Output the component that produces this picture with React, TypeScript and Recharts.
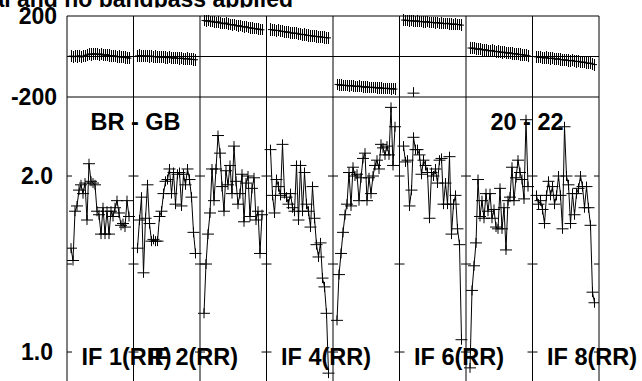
import { ComposedChart, Line, XAxis, YAxis, ReferenceLine, ErrorBar } from 'recharts';

// amplitude per channel, one list per IF (lower panel)
const ampIF1 = [1.59, 1.52, 1.80, 1.83, 1.92, 1.95, 1.90, 1.96, 1.75, 2.07, 1.97, 1.96, 1.95, 1.80, 1.78, 1.67, 1.82, 1.67, 1.80, 1.67, 1.80, 1.77, 1.82, 1.86, 1.79, 1.72, 1.73, 1.71, 1.86, 1.77];
const ampIF2 = [1.59, 1.75, 1.88, 1.45, 1.76, 1.95, 1.73, 1.63, 1.64, 1.63, 1.63, 1.77, 1.80, 1.90, 1.97, 1.98, 2.04, 1.90, 2.02, 1.84, 2.01, 2.02, 1.83, 2.01, 1.95, 2.04, 1.98, 1.88, 1.68, 1.56];
const ampIF3 = [1.22, 1.50, 1.67, 1.79, 2.04, 1.86, 2.04, 2.23, 2.13, 1.94, 1.80, 2.03, 1.95, 2.06, 1.90, 2.17, 1.97, 1.84, 1.90, 2.01, 1.74, 1.96, 2.00, 1.77, 1.93, 1.99, 1.75, 1.80, 1.56, 1.78];
const ampIF4 = [2.15, 1.89, 1.79, 1.98, 1.94, 1.89, 2.18, 1.90, 1.88, 1.84, 1.90, 1.82, 1.80, 2.06, 1.75, 2.06, 1.80, 2.02, 1.84, 1.80, 1.71, 1.94, 1.76, 1.61, 1.54, 1.62, 1.42, 1.37, 1.22, 0.88];
const ampIF5 = [1.18, 1.44, 1.56, 1.68, 1.78, 1.84, 2.02, 1.83, 2.05, 2.00, 2.01, 1.86, 1.99, 2.10, 2.13, 1.86, 1.99, 1.90, 2.00, 2.06, 2.09, 2.04, 2.18, 2.16, 2.12, 2.17, 2.12, 2.39, 2.06, 2.28];
const ampIF6 = [2.17, 2.08, 2.09, 1.83, 1.92, 2.22, 2.15, 2.15, 2.12, 2.01, 2.09, 2.06, 2.02, 1.76, 2.02, 2.00, 2.04, 1.96, 2.09, 2.10, 1.84, 1.96, 1.84, 2.11, 1.67, 1.84, 1.89, 1.70, 1.61, 1.07];
const ampIF7 = [0.91, 1.35, 1.49, 1.62, 1.98, 1.77, 1.86, 1.76, 1.90, 1.80, 1.90, 1.76, 1.81, 1.71, 1.70, 1.93, 1.70, 1.82, 1.58, 1.86, 1.88, 2.05, 1.86, 1.99, 2.09, 2.02, 1.98, 1.87, 2.32, 1.94];
const ampIF8 = [1.89, 1.84, 1.86, 1.81, 1.73, 1.89, 1.97, 1.89, 1.94, 1.84, 1.89, 2.00, 1.89, 1.70, 2.28, 2.00, 1.95, 1.73, 1.90, 1.78, 1.90, 1.93, 2.00, 1.94, 1.82, 1.94, 1.82, 1.72, 1.34, 1.28];

// phase in degrees per channel (upper panel)
const phaseIF1 = [2, -1, 1, 0, 3, -2, 1, 4, 8, 12, 10, 14, 11, 13, 9, 12, 8, 6, 9, 5, 4, 2, 3, -1, 0, -3, -2, -5, -6, -8];
const phaseIF2 = [3, 5, 2, 4, 1, 3, 0, 2, -1, 0, -3, -1, -4, -2, -5, -6, -4, -7, -8, -6, -9, -10, -8, -11, -12, -10, -13, -14, -15, -16];
const phaseIF3 = [178, 175, 177, 172, 174, 170, 168, 171, 166, 164, 162, 165, 160, 158, 156, 157, 153, 150, 152, 148, 146, 147, 143, 141, 140, 138, 137, 135, 134, 132];
const phaseIF4 = [133, 131, 130, 128, 129, 125, 124, 122, 120, 121, 117, 116, 114, 115, 111, 110, 108, 109, 105, 104, 103, 101, 100, 99, 97, 98, 95, 94, 93, 92];
const phaseIF5 = [-138, -141, -140, -143, -142, -144, -145, -143, -146, -147, -148, -146, -149, -150, -151, -150, -152, -153, -152, -154, -155, -156, -155, -157, -158, -157, -159, -160, -159, -161];
const phaseIF6 = [180, 178, 179, 176, 177, 175, 174, 176, 172, 173, 171, 170, 172, 168, 169, 167, 166, 168, 164, 165, 163, 162, 164, 161, 160, 159, 160, 158, 157, 155];
const phaseIF7 = [42, 40, 41, 37, 36, 38, 34, 32, 33, 29, 28, 30, 26, 24, 25, 22, 20, 21, 18, 17, 18, 15, 13, 14, 11, 10, 9, 7, 6, 4];
const phaseIF8 = [-2, -4, -3, -6, -7, -5, -9, -10, -8, -12, -13, -11, -15, -16, -18, -17, -20, -21, -19, -23, -25, -24, -27, -29, -28, -32, -34, -33, -37, -40];
const phaseErr = [30, 30, 28, 30, 28, 28, 30, 30];
// lone wrapped point in IF 6
const phaseOutlier = [{ ifIndex: 5, channel: 7, phase: -181 }];

const ifLabels = ['IF 1(RR)', 'IF 2(RR)', '', 'IF 4(RR)', '', 'IF 6(RR)', '', 'IF 8(RR)'];
const baselineLabels = ['BR - GB', '20 - 22'];
const ampTicks = [1.0, 2.0];
const ampEdgeTicks = [1.0, 1.5, 2.0];
const phaseTicks = [-200, 200];
const channelTicks = [10, 20, 30];

const NIF = 8;
const SPAN = 33.25; // channel units covered by one IF panel
const FIRST_CH = 2;
const EDGE_TICK = 2.5; // ~5px in channel units

const FONT = '"Liberation Sans", Arial, Helvetica, sans-serif';
const PLOT_L = 67;
const PLOT_R = 599;
const PANEL_W = (PLOT_R - PLOT_L) / NIF;

const ampSeries = [ampIF1, ampIF2, ampIF3, ampIF4, ampIF5, ampIF6, ampIF7, ampIF8];
const phaseSeries = [phaseIF1, phaseIF2, phaseIF3, phaseIF4, phaseIF5, phaseIF6, phaseIF7, phaseIF8];

const ampRows = ampSeries.map((vals, k) => vals.map((v, i) => ({ x: k * SPAN + FIRST_CH + i, v })));
const phaseRows = phaseSeries.map((vals, k) =>
  vals.map((v, i) => ({ x: k * SPAN + FIRST_CH + i, v, e: phaseErr[k] }))
);
const outlierRows = phaseOutlier.map(p => ({ x: p.ifIndex * SPAN + p.channel, v: p.phase }));

const xTicks = Array.from({ length: NIF }).flatMap((_, k) => channelTicks.map(t => k * SPAN + t));
const bounds = Array.from({ length: NIF + 1 }, (_, k) => k * SPAN);
const xDomain: [number, number] = [0, NIF * SPAN];

const plus = (w: number, h: number) => (props: any) => {
  const { cx, cy, index } = props;
  if (cx == null || cy == null) return <g key={index} />;
  const d = `M${cx - w / 2},${cy}H${cx + w / 2}` + (h > 0 ? `M${cx},${cy - h / 2}V${cy + h / 2}` : '');
  return <path key={index} d={d} stroke="#000" strokeWidth={1} fill="none" />;
};

const tickStyle = { fontSize: 23, fontWeight: 'bold', fill: '#000', fontFamily: FONT };

function PhaseChart() {
  return (
    <ComposedChart width={642} height={110} margin={{ top: 16, right: 642 - PLOT_R, bottom: 13, left: PLOT_L - 60 }}>
      <XAxis xAxisId="pt" dataKey="x" type="number" domain={xDomain} allowDataOverflow orientation="top" mirror
        ticks={xTicks} interval={0} tickSize={4} tick={false} axisLine={false} stroke="#000" />
      <XAxis xAxisId="pb" dataKey="x" type="number" domain={xDomain} allowDataOverflow orientation="bottom" mirror
        ticks={xTicks} interval={0} tickSize={4} tick={false} axisLine={false} stroke="#000" />
      <YAxis yAxisId="ph" type="number" domain={[-200, 200]} allowDataOverflow width={60} ticks={phaseTicks}
        interval={0} tickSize={0} tickMargin={10} axisLine={false} tickLine={false} tick={tickStyle} />
      {bounds.map(b => (
        <ReferenceLine key={'pv' + b} x={b} xAxisId="pb" yAxisId="ph" stroke="#000" strokeWidth={1} ifOverflow="visible" />
      ))}
      <ReferenceLine y={200} xAxisId="pb" yAxisId="ph" stroke="#000" ifOverflow="visible" />
      <ReferenceLine y={0} xAxisId="pb" yAxisId="ph" stroke="#000" ifOverflow="visible" />
      <ReferenceLine y={-200} xAxisId="pb" yAxisId="ph" stroke="#000" ifOverflow="visible" />
      {phaseRows.map((rows, k) => (
        <Line key={'ph' + k} data={rows} dataKey="v" xAxisId="pb" yAxisId="ph" type="linear" stroke="#000"
          strokeWidth={1} dot={plus(5, 0)} activeDot={false} isAnimationActive={false}>
          <ErrorBar dataKey="e" direction="y" width={0} stroke="#000" strokeWidth={1} shapeRendering="crispEdges" />
        </Line>
      ))}
      <Line data={outlierRows} dataKey="v" xAxisId="pb" yAxisId="ph" stroke="none" dot={plus(12, 12)}
        activeDot={false} isAnimationActive={false} />
    </ComposedChart>
  );
}

function AmpChart() {
  return (
    <ComposedChart width={642} height={400} margin={{ top: 97, right: 642 - PLOT_R, bottom: 17, left: PLOT_L - 60 }}>
      <XAxis xAxisId="at" dataKey="x" type="number" domain={xDomain} allowDataOverflow orientation="top" mirror
        ticks={xTicks} interval={0} tickSize={4} tick={false} axisLine={false} stroke="#000" />
      <XAxis xAxisId="ab" dataKey="x" type="number" domain={xDomain} allowDataOverflow orientation="bottom" mirror
        ticks={xTicks} interval={0} tickSize={4} tick={false} axisLine={false} stroke="#000" />
      <YAxis yAxisId="amp" type="number" domain={[0.824, 2.449]} allowDataOverflow width={60} ticks={ampTicks}
        interval={0} tickSize={0} tickMargin={14} axisLine={false} tickLine={false} tick={tickStyle}
        tickFormatter={(v: number) => v.toFixed(1)} />
      {bounds.map(b => (
        <ReferenceLine key={'av' + b} x={b} xAxisId="ab" yAxisId="amp" stroke="#000" strokeWidth={1} ifOverflow="visible" />
      ))}
      {bounds.flatMap((b, k) =>
        ampEdgeTicks.map(lvl => (
          <ReferenceLine key={'at' + k + '-' + lvl} xAxisId="ab" yAxisId="amp" stroke="#000" ifOverflow="visible"
            segment={[{ x: k === 0 ? b : b - EDGE_TICK, y: lvl }, { x: k === NIF ? b : b + EDGE_TICK, y: lvl }]} />
        ))
      )}
      {ampRows.map((rows, k) => (
        <Line key={'am' + k} data={rows} dataKey="v" xAxisId="ab" yAxisId="amp" type="linear" stroke="#000"
          strokeWidth={1} dot={plus(12, 10)} activeDot={false} isAnimationActive={false} />
      ))}
    </ComposedChart>
  );
}

export default function App() {
  const labelStyle = { fontSize: 23.5, fontWeight: 'bold' as const, fontFamily: FONT, fill: '#000' };
  return (
    <div style={{ position: 'absolute', left: 0, top: 0, width: 642, height: 381, overflow: 'hidden', background: '#fff' }}>
      <div style={{ position: 'absolute', left: 0, top: 0 }}>
        <PhaseChart />
      </div>
      <div style={{ position: 'absolute', left: 0, top: 0 }}>
        <AmpChart />
      </div>
      <svg width={642} height={381} style={{ position: 'absolute', left: 0, top: 0, pointerEvents: 'none' }}>
        <defs>
          <clipPath id="titleClip">
            <rect x={0} y={0} width={642} height={7.5} />
          </clipPath>
        </defs>
        <text x={293} y={6.6} textAnchor="end" clipPath="url(#titleClip)" style={{ ...labelStyle, fontSize: 23 }}>
          Vector averaged with no cal and no bandpass applied
        </text>
        <text x={135.5} y={130} textAnchor="middle" style={labelStyle}>{baselineLabels[0]}</text>
        <text x={527} y={130} textAnchor="middle" style={labelStyle}>{baselineLabels[1]}</text>
        {ifLabels.map((t, k) =>
          t ? (
            <text key={t} x={PLOT_L + k * PANEL_W + 14.5} y={364.5} style={labelStyle}>{t}</text>
          ) : null
        )}
      </svg>
    </div>
  );
}
